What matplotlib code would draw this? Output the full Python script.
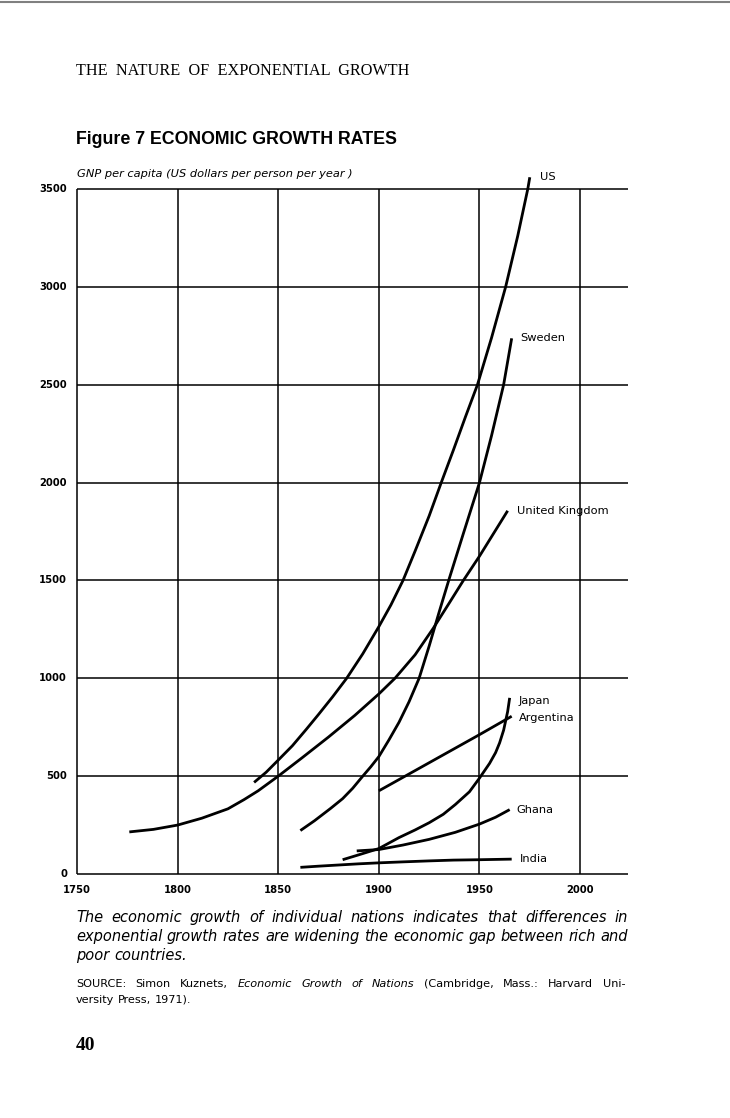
import matplotlib
matplotlib.use('Agg')
import matplotlib.pyplot as plt
from matplotlib.lines import Line2D

# values (GNP per capita, US dollars)
us_years = [1838, 1844, 1850, 1857, 1864, 1870, 1877, 1884, 1892, 1900, 1906, 1912,
            1918, 1925, 1931, 1937, 1943, 1949, 1956, 1963, 1969, 1974, 1975]
us_gnp = [468, 520, 582, 655, 740, 815, 905, 1000, 1125, 1264, 1375, 1500,
          1650, 1830, 2000, 2165, 2335, 2500, 2740, 3000, 3260, 3500, 3560]

sweden_years = [1861, 1868, 1876, 1882, 1887, 1892, 1896, 1900, 1905, 1910, 1915, 1920,
                1925, 1930, 1935, 1942, 1950, 1956, 1962, 1966]
sweden_gnp = [222, 272, 335, 385, 438, 500, 548, 600, 685, 775, 880, 1000,
              1165, 1340, 1510, 1740, 2000, 2240, 2500, 2737]

uk_years = [1776, 1788, 1800, 1812, 1825, 1833, 1840, 1850, 1862, 1875, 1888, 1900,
            1908, 1918, 1927, 1935, 1942, 1950, 1957, 1964]
uk_gnp = [215, 228, 250, 285, 333, 380, 425, 500, 595, 700, 810, 920,
          1000, 1120, 1255, 1385, 1500, 1624, 1740, 1856]

japan_years = [1882, 1890, 1900, 1910, 1918, 1925, 1932, 1938, 1945, 1950, 1955, 1958,
               1960, 1962, 1964, 1965]
japan_gnp = [73, 98, 130, 186, 225, 262, 305, 355, 420, 490, 565, 620,
             670, 735, 830, 900]

argentina_years = [1900, 1950, 1966]
argentina_gnp = [425, 712, 806]

ghana_years = [1889, 1900, 1912, 1925, 1938, 1950, 1958, 1965]
ghana_gnp = [118, 125, 148, 177, 213, 255, 290, 329]

india_years = [1861, 1870, 1880, 1890, 1900, 1912, 1925, 1937, 1950, 1966]
india_gnp = [34, 40, 46, 52, 57, 62, 67, 71, 73, 76]

x_ticks = [1750, 1800, 1850, 1900, 1950, 2000]
y_ticks = [0, 500, 1000, 1500, 2000, 2500, 3000, 3500]

W, H = 730, 1118
fig = plt.figure(figsize=(W / 100, H / 100), dpi=100)

def fy(py):
    return 1 - py / H

# thin grey rule at top of the scanned page
fig.add_artist(Line2D([0, 1], [fy(2), fy(2)], color='0.5', lw=1.5))

ax = fig.add_axes([77 / W, fy(874), (628 - 77) / W, (874 - 189) / H])
ax.set_xlim(1750, 2023.8)
ax.set_ylim(0, 3500)
for s in ax.spines.values():
    s.set_visible(False)
ax.set_xticks([])
ax.set_yticks([])
ax.patch.set_alpha(0)

ax.hlines(y_ticks, 1750, 2023.8, color='black', lw=1.1, clip_on=False)
ax.vlines(x_ticks, 0, 3500, color='black', lw=1.1, clip_on=False)

for v in y_ticks:
    ax.text(1745, v, str(v), ha='right', va='center', fontsize=7.2,
            fontweight='bold', family='DejaVu Sans')
for yr in x_ticks:
    ax.text(yr, -55, str(yr), ha='center', va='top', fontsize=7.2,
            fontweight='bold', family='DejaVu Sans')

series = [
    (us_years, us_gnp, 'US', (10, 0)),
    (sweden_years, sweden_gnp, 'Sweden', (9, 0)),
    (uk_years, uk_gnp, 'United Kingdom', (9, 0)),
    (japan_years, japan_gnp, 'Japan', (9, -3)),
    (argentina_years, argentina_gnp, 'Argentina', (7, -2)),
    (ghana_years, ghana_gnp, 'Ghana', (7, 0)),
    (india_years, india_gnp, 'India', (8, 0)),
]
for yrs, vals, name, off in series:
    ax.plot(yrs, vals, color='black', lw=2.0, solid_capstyle='butt',
            solid_joinstyle='round', clip_on=False)
    ax.annotate(name, (yrs[-1], vals[-1]), xytext=off, textcoords='offset pixels',
                ha='left', va='center', fontsize=8.2, family='DejaVu Sans',
                annotation_clip=False)

# page texts
fig.text(76 / W, fy(71), 'THE  NATURE  OF  EXPONENTIAL  GROWTH', ha='left', va='center',
         fontsize=11.7, family='Liberation Serif')
fig.text(76 / W, fy(139), 'Figure 7 ECONOMIC GROWTH RATES', ha='left', va='center',
         fontsize=12.8, fontweight='bold', family='Liberation Sans')
fig.text(77 / W, fy(174), 'GNP per capita (US dollars per person per year )', ha='left',
         va='center', fontsize=8.2, style='italic', family='DejaVu Sans')

renderer = fig.canvas.get_renderer()

def justify(words, py, x0, x1, size, fill=True):
    texts = []
    for w, it in words:
        t = fig.text(0, fy(py), w, ha='left', va='baseline', fontsize=size,
                     family='DejaVu Sans', style='italic' if it else 'normal')
        texts.append(t)
    widths = [t.get_window_extent(renderer).width for t in texts]
    space = size * 100 / 72 * 0.32
    if fill and len(texts) > 1:
        space = (x1 - x0 - sum(widths)) / (len(texts) - 1)
    x = x0
    for t, wd in zip(texts, widths):
        t.set_x(x / W)
        x += wd + space

cap = [
    'The economic growth of individual nations indicates that differences in',
    'exponential growth rates are widening the economic gap between rich and',
    'poor countries.',
]
for i, line in enumerate(cap):
    justify([(w, True) for w in line.split()], 922 + 19 * i, 76, 628, 10.5, fill=i < 2)

src1 = [('SOURCE:', False), ('Simon', False), ('Kuznets,', False), ('Economic', True),
        ('Growth', True), ('of', True), ('Nations', True), ('(Cambridge,', False),
        ('Mass.:', False), ('Harvard', False), ('Uni-', False)]
justify(src1, 987, 76, 625, 8.1)
justify([('versity', False), ('Press,', False), ('1971).', False)], 1003, 76, 625, 8.1, fill=False)

fig.text(76 / W, fy(1045), '40', ha='left', va='center', fontsize=14,
         fontweight='bold', family='Liberation Serif')

fig.savefig('out.png', dpi=100, facecolor='white')
